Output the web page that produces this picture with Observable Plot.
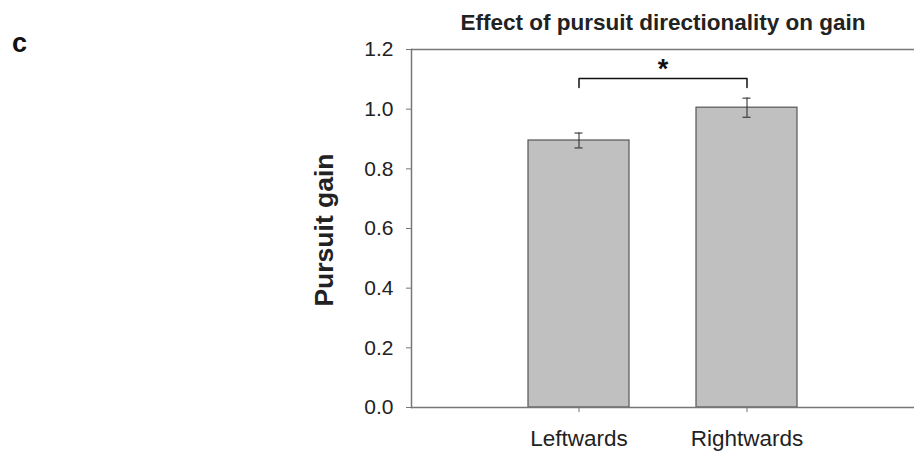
<!DOCTYPE html>
<html>
<head>
<meta charset="utf-8">
<script src="https://cdn.jsdelivr.net/npm/d3@7"></script>
<script src="https://cdn.jsdelivr.net/npm/@observablehq/plot@0.6"></script>
<style>
  html, body { margin: 0; padding: 0; background: #fff; }
  #wrap { position: relative; width: 914px; height: 462px; font-family: Arial, "Liberation Sans", sans-serif; }
  #title { position: absolute; left: 413px; width: 500px; top: 10px; text-align: center; font-weight: bold; font-size: 22.5px; color: #222; white-space: nowrap; }
  #panel { position: absolute; left: 12px; top: 28px; font-weight: bold; font-size: 27px; color: #111; }
  #ylabel { position: absolute; left: 174px; width: 300px; top: 215px; text-align: center; font-weight: bold; font-size: 26.5px; line-height: 30px; color: #222; transform: rotate(-90deg); transform-origin: 150px 15px; white-space: nowrap; }
  svg { display: block; }
</style>
</head>
<body>
<div id="wrap">
  <div id="chart"></div>
  <div id="title">Effect of pursuit directionality on gain</div>
  <div id="panel">c</div>
  <div id="ylabel">Pursuit gain</div>
</div>
<script>
const categories = ["Leftwards", "Rightwards"];
const gainMeans = [0.895, 1.005];
const gainErrors = [0.025, 0.032];
const yTicks = [0, 0.2, 0.4, 0.6, 0.8, 1.0, 1.2];
const bracketY = [1.073, 1.103, 1.103, 1.073];
const bracketX = ["Leftwards", "Leftwards", "Rightwards", "Rightwards"];
const starLabel = "*";
const starY = 1.135;

const bars = categories.map((c, i) => ({cat: c, mean: gainMeans[i], lo: gainMeans[i] - gainErrors[i], hi: gainMeans[i] + gainErrors[i]}));
const bracket = bracketX.map((x, i) => ({cat: x, y: bracketY[i]}));

const chart = Plot.plot({
  width: 914,
  height: 462,
  marginTop: 49,
  marginBottom: 55,
  marginLeft: 411,
  marginRight: 0,
  style: {fontFamily: "Arial, 'Liberation Sans', sans-serif", fontSize: "21px", color: "#222", overflow: "visible"},
  x: {domain: categories, paddingInner: 0.401, paddingOuter: 0.693, label: null},
  y: {domain: [0, 1.2], ticks: yTicks, label: null},
  marks: [
    Plot.barY(bars, {x: "cat", y: "mean", fill: "#c0c0c0", stroke: "#555", strokeWidth: 1.2}),
    Plot.ruleX(bars, {x: "cat", y1: "lo", y2: "hi", stroke: "#222", strokeWidth: 1}),
    Plot.tickY(bars, {x: "cat", y: "lo", stroke: "#222", insetLeft: 46.5, insetRight: 46.5}),
    Plot.tickY(bars, {x: "cat", y: "hi", stroke: "#222", insetLeft: 46.5, insetRight: 46.5}),
    Plot.line(bracket, {x: "cat", y: "y", stroke: "#111", strokeWidth: 1.5}),
    Plot.text([starY], {y: d => d, text: () => starLabel, frameAnchor: "middle", fontSize: 27, fontWeight: "bold", fill: "#111"}),
    Plot.ruleY([0, 1.2], {stroke: "#777", strokeWidth: 1.5}),
    Plot.frame({anchor: "left", stroke: "#777", strokeWidth: 1.5}),
    Plot.axisY({ticks: yTicks, tickFormat: d3.format(".1f"), tickSize: 5, tickPadding: 13, stroke: "#777", fontSize: 21, label: null}),
    Plot.axisX({tickSize: 5, tickPadding: 18, stroke: "#777", fontSize: 22.5, label: null})
  ]
});
document.getElementById("chart").appendChild(chart);
</script>
</body>
</html>
